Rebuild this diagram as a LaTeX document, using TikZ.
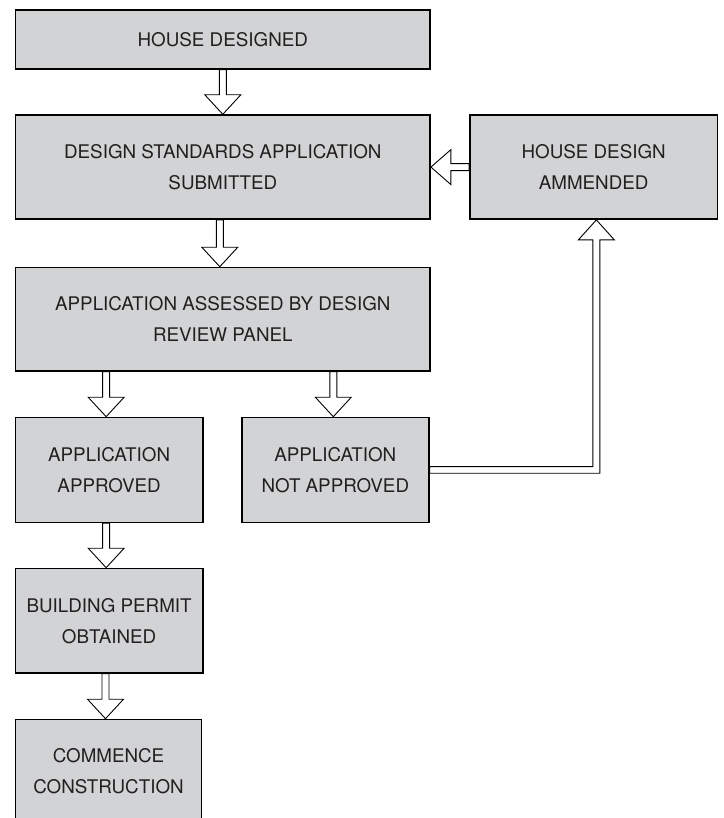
\documentclass[tikz,border=0pt]{standalone}
\usepackage{fontspec}
\setmainfont{TeX Gyre Heros}
\usetikzlibrary{calc,backgrounds}
\definecolor{boxgray}{RGB}{209,211,212}
\definecolor{ink}{RGB}{35,31,32}
\tikzset{
  box/.style={draw=black, line width=1.6pt, fill=boxgray, align=center, inner sep=0pt,
    anchor=north west, font=\fontsize{18.8}{31}\selectfont, text=ink},
  blk/.style={draw=black, line width=0.9pt, fill=white, line join=miter},
}
% down block arrow: from node #1 (bottom) to node #2 (top), x offset #3 from target centre
\newcommand{\dblk}[3]{%
  \draw[blk] let \p1=(#1.south), \p2=($(#2.north)+(#3,0)$) in
    (\x2-3.5pt,\y1) -- (\x2-3.5pt,\y2+19.5pt) -- (\x2-18pt,\y2+19.5pt) -- (\x2,\y2)
    -- (\x2+18pt,\y2+19.5pt) -- (\x2+3.5pt,\y2+19.5pt) -- (\x2+3.5pt,\y1) -- cycle;}
\begin{document}
\begin{tikzpicture}[x=1pt,y=-1pt]
\useasboundingbox (0,0) rectangle (723,818);
\clip (0,0) rectangle (723,818);

\node[box, minimum width=414.6pt, minimum height=59pt] (b1) at (14.7,9) {HOUSE DESIGNED};
\node[box, minimum width=414.6pt, minimum height=104pt] (b2) at (14.7,114.3) {DESIGN STANDARDS APPLICATION\\SUBMITTED};
\node[box, minimum width=247.7pt, minimum height=104pt] (hda) at (469,114.3) {HOUSE DESIGN\\AMMENDED};
\node[box, minimum width=414.6pt, minimum height=103.3pt] (b3) at (14.7,266.7) {APPLICATION ASSESSED BY DESIGN\\REVIEW PANEL};
\node[box, minimum width=187.3pt, minimum height=104.8pt] (app) at (14.7,416.7) {APPLICATION\\APPROVED};
\node[box, minimum width=187pt, minimum height=104.8pt] (nap) at (241,416.7) {APPLICATION\\NOT APPROVED};
\node[box, minimum width=187.3pt, minimum height=104.3pt] (bp) at (14.7,567.7) {BUILDING PERMIT\\OBTAINED};
\node[box, minimum width=186pt, minimum height=104pt] (cc) at (14.7,718.7) {COMMENCE\\CONSTRUCTION};

\begin{scope}[on background layer]
\dblk{b1}{b2}{0}
\dblk{b2}{b3}{-3}
\dblk{b3}{app}{-3}
\dblk{b3}{nap}{-2}
\dblk{app}{bp}{-3}
\dblk{bp}{cc}{-3}
% left arrow: house design ammended -> design standards submitted
\draw[blk] let \p1=(hda.west), \p2=(b2.east) in
  (\x1,\y1+3.5pt) -- (\x2+20pt,\y1+3.5pt) -- (\x2+20pt,\y1+17.5pt) -- (\x2,\y1)
  -- (\x2+20pt,\y1-17.5pt) -- (\x2+20pt,\y1-3.5pt) -- (\x1,\y1-3.5pt) -- cycle;
% routed arrow: not approved -> house design ammended
\draw[blk] let \p1=(nap.east), \p2=($(hda.south)+(2.7,0)$) in
  (\x1,\y1+3.3pt) -- (\x2-3.5pt,\y1+3.3pt) -- (\x2-3.5pt,\y2-20pt) -- (\x2-18pt,\y2-20pt)
  -- (\x2,\y2) -- (\x2+18pt,\y2-20pt) -- (\x2+3.5pt,\y2-20pt) -- (\x2+3.5pt,\y1-3.3pt)
  -- (\x1,\y1-3.3pt) -- cycle;
\end{scope}
\end{tikzpicture}
\end{document}
